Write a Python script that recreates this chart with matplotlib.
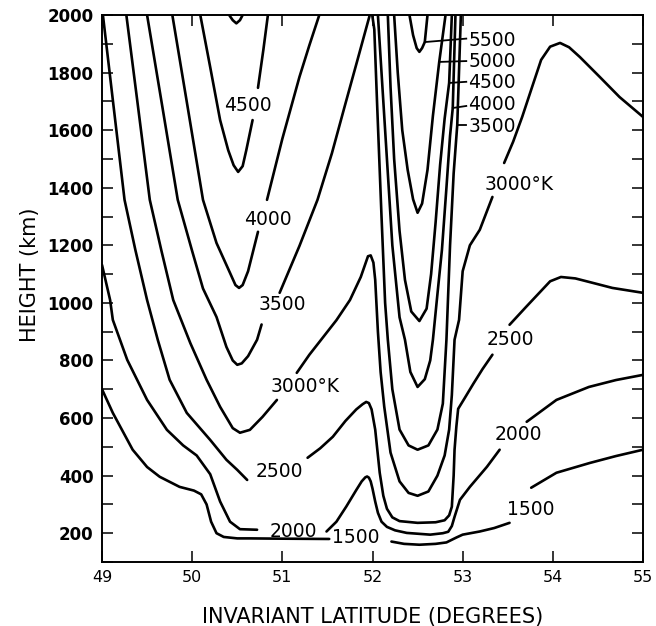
import numpy as np
import matplotlib
matplotlib.use("Agg")
import matplotlib.pyplot as plt
from matplotlib.ticker import FixedLocator, NullFormatter

nan = np.nan

# isotherms: invariant latitude (deg) vs height (km)
# nan marks a break in the line where a label sits
c1500_lat = [49.00, 49.12, 49.34, 49.50, 49.64, 49.86, 50.02, 50.10, 50.16, 50.21, 50.27, 50.35, 50.50, 50.64, 51.00, 51.52,
             nan, 52.21, 52.35, 52.52, 52.70, 52.82, 52.93, 53.00, 53.19, 53.35, 53.52,
             nan, 53.76, 54.04, 54.41, 54.70, 55.00]
c1500_h = [700, 618, 490, 430, 396, 361, 348, 335, 300, 240, 200, 187, 182, 182, 181, 180,
           nan, 171, 163, 160, 163, 168, 185, 195, 206, 218, 236,
           nan, 358, 410, 444, 468, 490]

c2000_lat = [49.00, 49.09, 49.12, 49.28, 49.50, 49.72, 49.90, 50.05, 50.20, 50.31, 50.42, 50.53, 50.72,
             nan, 51.49, 51.60, 51.71, 51.82, 51.88, 51.92, 51.94, 51.96, 51.98, 52.00, 52.03, 52.06, 52.10,
             52.16, 52.25, 52.38, 52.64, 52.78, 52.84, 52.88, 52.91, 52.97, 53.08, 53.27, 53.41,
             nan, 53.71, 54.04, 54.40, 54.70, 55.00]
c2000_h = [1132, 1010, 941, 802, 663, 559, 505, 470, 405, 310, 240, 214, 212,
           nan, 206, 240, 293, 350, 380, 394, 397, 393, 380, 355, 310, 271, 240,
           222, 210, 201, 195, 200, 205, 225, 257, 316, 361, 431, 490,
           nan, 587, 663, 708, 732, 750]

c2500_lat = [49.01, 49.12, 49.25, 49.37, 49.50, 49.62, 49.75, 49.94, 50.20, 50.38, 50.50, 50.61,
             nan, 51.28, 51.42, 51.56, 51.70, 51.82, 51.89, 51.93, 51.96, 51.99, 52.03, 52.08, 52.12, 52.16, 52.22,
             52.30, 52.50, 52.70, 52.80, 52.85, 52.88, 52.90, 52.91, 52.93, 52.95, 53.02, 53.12, 53.22, 53.33,
             nan, 53.52, 53.70, 53.85, 53.97, 54.09, 54.25, 54.40, 54.66, 55.00]
c2500_h = [2000, 1705, 1358, 1184, 1010, 870, 733, 618, 524, 455, 420, 385,
           nan, 462, 495, 535, 590, 630, 648, 656, 652, 630, 560, 410, 330, 285, 255,
           242, 236, 238, 245, 262, 292, 400, 490, 570, 632, 668, 720, 770, 820,
           nan, 924, 985, 1035, 1075, 1090, 1085, 1073, 1052, 1035]

c3000_lat = [49.27, 49.39, 49.53, 49.66, 49.79, 49.98, 50.16, 50.31, 50.45, 50.53, 50.64, 50.78, 50.94,
             nan, 51.16, 51.30, 51.45, 51.60, 51.75, 51.87, 51.92, 51.95, 51.98, 52.01, 52.03, 52.06, 52.09, 52.13,
             52.20, 52.30, 52.40, 52.50, 52.62, 52.72, 52.80, 52.85, 52.88, 52.91, 52.96, 53.00, 53.08, 53.19, 53.33,
             nan, 53.46, 53.56, 53.66, 53.77, 53.87, 53.97, 54.08, 54.18, 54.30, 54.52, 54.74, 55.00]
c3000_h = [2000, 1705, 1358, 1180, 1010, 860, 733, 639, 565, 549, 559, 604, 663,
           nan, 757, 820, 880, 940, 1010, 1090, 1135, 1162, 1165, 1140, 1080, 900, 760, 640,
           480, 380, 340, 330, 345, 400, 470, 560, 680, 872, 941, 1110, 1200, 1254, 1368,
           nan, 1486, 1560, 1646, 1750, 1844, 1890, 1903, 1888, 1854, 1785, 1715, 1646]

c3500_lat = [49.50, 49.67, 49.84, 50.00, 50.12, 50.27, 50.38, 50.45, 50.50, 50.55, 50.62, 50.72, 50.77,
             nan, 50.97, 51.19, 51.39, 51.55, 51.69, 51.83, 51.97, 51.99, 52.02, 52.05, 52.10, 52.14,
             52.17, 52.22, 52.30, 52.40, 52.50, 52.62, 52.72, 52.78, 52.82, 52.86, 52.90, 52.94, 52.98]
c3500_h = [2000, 1680, 1358, 1180, 1050, 951, 847, 800, 785, 790, 815, 872, 925,
           nan, 1035, 1198, 1358, 1520, 1681, 1840, 2000, 2015, 1950, 1700, 1300, 1000,
           872, 700, 560, 505, 490, 505, 560, 650, 872, 1200, 1450, 1618, 2000]

c4000_lat = [49.78, 49.95, 50.12, 50.27, 50.42, 50.48, 50.52, 50.56, 50.62, 50.73,
             nan, 50.83, 51.00, 51.19, 51.30, 51.41,
             nan, 52.06, 52.10, 52.16, 52.22, 52.30, 52.36, 52.42, 52.50, 52.58, 52.64, 52.67, 52.72,
             52.77, 52.82, 52.86, 52.89, 52.92]
c4000_h = [2000, 1680, 1358, 1208, 1104, 1062, 1052, 1062, 1110, 1247,
           nan, 1358, 1570, 1785, 1895, 2000,
           nan, 2000, 1800, 1500, 1200, 950, 872, 760, 708, 735, 800, 872, 1030,
           1184, 1400, 1580, 1677, 2000]

c4500_lat = [50.09, 50.20, 50.31, 50.40, 50.46, 50.51, 50.56, 50.60, 50.67,
             nan, 50.73, 50.79, 50.84,
             nan, 52.17, 52.20, 52.24, 52.30, 52.36, 52.43, 52.52, 52.60, 52.65, 52.70, 52.75, 52.80,
             52.85, 52.88]
c4500_h = [2000, 1819, 1635, 1530, 1478, 1455, 1475, 1530, 1635,
           nan, 1747, 1880, 2000,
           nan, 2000, 1750, 1500, 1250, 1080, 970, 937, 980, 1100, 1280, 1480, 1640,
           1764, 2000]

c5000_lat = [50.41, 50.45, 50.49, 50.53, 50.56,
             nan, 52.24, 52.28, 52.33, 52.39, 52.45, 52.50, 52.55, 52.61, 52.67, 52.74, 52.81]
c5000_h = [2000, 1982, 1971, 1982, 2000,
           nan, 2000, 1800, 1600, 1462, 1360, 1313, 1345, 1462, 1650, 1837, 2000]

c5500_lat = [52.41, 52.45, 52.49, 52.52, 52.55, 52.58, 52.61]
c5500_h = [2000, 1930, 1885, 1872, 1885, 1906, 2000]

# leader lines to the stacked labels at the upper right
lead_text = ["5500", "5000", "4500", "4000", "3500"]
lead_lat0 = [52.58, 52.74, 52.85, 52.89, 52.94]
lead_h0 = [1906, 1837, 1764, 1677, 1618]
lead_lat1 = [53.04, 53.04, 53.04, 53.04, 53.04]
lead_h1 = [1918, 1840, 1768, 1684, 1618]
lead_label_h = [1913, 1837, 1767, 1688, 1611]

# inline labels
lab_text = ["4500", "4000", "3500", "3000°K", "2500", "2000", "1500",
            "3000°K", "2500", "2000", "1500"]
lab_lat = [50.62, 50.84, 51.00, 51.25, 50.97, 51.12, 51.81,
           53.62, 53.53, 53.62, 53.76]
lab_h = [1687, 1288, 993, 708, 413, 205, 184,
         1410, 872, 542, 281]

lat_ticks = [49, 50, 51, 52, 53, 54, 55]
h_ticks = [200, 400, 600, 800, 1000, 1200, 1400, 1600, 1800, 2000]
h_minor = [100, 300, 500, 700, 900, 1100, 1300, 1500, 1700, 1900]

fig = plt.figure(figsize=(6.56, 6.26), dpi=100)
ax = fig.add_axes([102 / 656, 1 - 562 / 626, 541 / 656, 547 / 626])

curves = [(c1500_lat, c1500_h), (c2000_lat, c2000_h), (c2500_lat, c2500_h),
          (c3000_lat, c3000_h), (c3500_lat, c3500_h), (c4000_lat, c4000_h),
          (c4500_lat, c4500_h), (c5000_lat, c5000_h), (c5500_lat, c5500_h)]
for lat, h in curves:
    ax.plot(lat, h, color="black", lw=1.9, solid_capstyle="round", solid_joinstyle="round")

for i in range(len(lead_text)):
    ax.plot([lead_lat0[i], lead_lat1[i]], [lead_h0[i], lead_h1[i]], color="black", lw=1.3)
    ax.text(lead_lat1[i] + 0.02, lead_label_h[i], lead_text[i], fontsize=13.5,
            ha="left", va="center")

for t, x, y in zip(lab_text, lab_lat, lab_h):
    ax.text(x, y, t, fontsize=13.5, ha="center", va="center")

ax.set_xlim(49, 55)
ax.set_ylim(100, 2000)
ax.xaxis.set_major_locator(FixedLocator(lat_ticks))
ax.yaxis.set_major_locator(FixedLocator(h_ticks))
ax.yaxis.set_minor_locator(FixedLocator(h_minor))
ax.yaxis.set_minor_formatter(NullFormatter())
ax.tick_params(which="both", direction="in", length=8, width=1.1,
               top=True, right=True, pad=6)
ax.tick_params(axis="x", labelsize=11.5)
ax.tick_params(axis="y", labelsize=12)
for lab in ax.get_yticklabels():
    lab.set_fontweight("bold")
for s in ax.spines.values():
    s.set_linewidth(1.4)

ax.set_xlabel("INVARIANT LATITUDE (DEGREES)", fontsize=15)
ax.xaxis.set_label_coords(0.5, -0.082)
ax.set_ylabel("HEIGHT (km)", fontsize=15)
ax.yaxis.set_label_coords(-0.115, 0.525)

fig.savefig("out.png", dpi=100)
